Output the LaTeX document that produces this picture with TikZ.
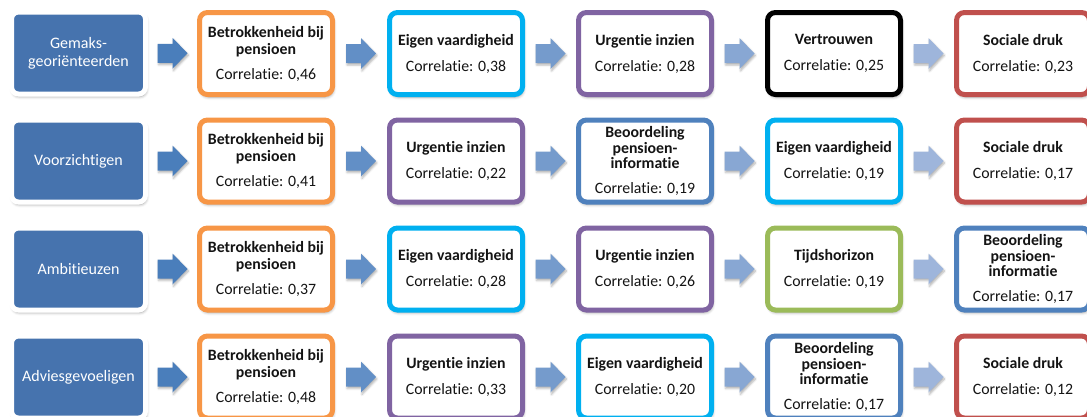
\documentclass[tikz,border=0pt]{standalone}
\usepackage{fontspec}
\setmainfont{Carlito}[Ligatures=NoCommon]
\usetikzlibrary{shadows.blur}

\definecolor{grpblue}{HTML}{4673AE}
\definecolor{cOrange}{HTML}{F79646}
\definecolor{cCyan}{HTML}{00B0F0}
\definecolor{cPurple}{HTML}{8064A2}
\definecolor{cRed}{HTML}{C0504D}
\definecolor{cGreen}{HTML}{9BBB59}
\definecolor{cBlue}{HTML}{4F81BD}
\definecolor{arA}{HTML}{4A7EBB}
\definecolor{arB}{HTML}{628FC6}
\definecolor{arC}{HTML}{759BCC}
\definecolor{arD}{HTML}{88A7D3}
\definecolor{arE}{HTML}{9EB5DB}
\definecolor{txt}{HTML}{141414}

\tikzset{
  softshadow/.style={blur shadow={shadow xshift=1pt, shadow yshift=-2.5pt,
      shadow blur radius=3pt, shadow opacity=40}},
  group/.style={draw=white, line width=5pt, fill=grpblue, rounded corners=7pt,
      minimum width=134pt, minimum height=82pt, inner sep=0pt, align=center,
      text=white, font=\fontsize{16}{18}\selectfont, softshadow},
  factor/.style={draw=#1, line width=5pt, fill=white, rounded corners=8pt,
      minimum width=133pt, minimum height=82pt, inner sep=0pt, align=center,
      text=txt, font=\fontsize{15.8}{17}\selectfont, softshadow},
  factorthree/.style={factor=#1, font=\fontsize{15.8}{15.5}\selectfont},
}

% block arrow centred in the gap between two boxes
\newcommand\conn[3]{%
  \path (#1.east) -- (#2.west) coordinate[midway] (mid);
  \fill[#3, blur shadow={shadow xshift=1pt, shadow yshift=-2pt,
      shadow blur radius=2pt, shadow opacity=30}]
    ([shift={(-15pt,9.5pt)}]mid) -- ++(15pt,0pt) -- ++(0pt,6pt)
    -- ++(15pt,-15.5pt) -- ++(-15pt,-15.5pt) -- ++(0pt,6pt)
    -- ++(-15pt,0pt) -- cycle;
}
\newcommand\twoline[3]{\textbf{#1}\\\textbf{#2}\\[8pt]Correlatie: #3}
\newcommand\oneline[2]{\textbf{#1}\\[9pt]Correlatie: #2}
\newcommand\beoord[1]{\textbf{Beoordeling}\\\textbf{pensioen-}\\\textbf{informatie}\\[9.5pt]Correlatie: #1}

\begin{document}
\begin{tikzpicture}[x=1pt, y=-1pt]
\useasboundingbox (0,0) rectangle (1087,416);
\clip (0,0) rectangle (1087,416);

% row 1
\node[group] (g1) at (78.5,53) {Gemaks-\\georiënteerden};
\node[factor=cOrange] (r1a) at (266,53.5) {\twoline{Betrokkenheid bij}{pensioen}{0,46}};
\node[factor=cCyan]   (r1b) at (456,53.5) {\oneline{Eigen vaardigheid}{0,38}};
\node[factor=cPurple] (r1c) at (645,53.5) {\oneline{Urgentie inzien}{0,28}};
\node[factor=black]   (r1d) at (834,53.5) {\oneline{Vertrouwen}{0,25}};
\node[factor=cRed]    (r1e) at (1023,53.5) {\oneline{Sociale druk}{0,23}};

% row 2
\node[group] (g2) at (78.5,161) {Voorzichtigen};
\node[factor=cOrange] (r2a) at (266,161) {\twoline{Betrokkenheid bij}{pensioen}{0,41}};
\node[factor=cPurple] (r2b) at (456,161) {\oneline{Urgentie inzien}{0,22}};
\node[factorthree=cBlue] (r2c) at (645,161) {\beoord{0,19}};
\node[factor=cCyan]   (r2d) at (834,161) {\oneline{Eigen vaardigheid}{0,19}};
\node[factor=cRed]    (r2e) at (1023,161) {\oneline{Sociale druk}{0,17}};

% row 3
\node[group] (g3) at (78.5,269) {Ambitieuzen};
\node[factor=cOrange] (r3a) at (266,269) {\twoline{Betrokkenheid bij}{pensioen}{0,37}};
\node[factor=cCyan]   (r3b) at (456,269) {\oneline{Eigen vaardigheid}{0,28}};
\node[factor=cPurple] (r3c) at (645,269) {\oneline{Urgentie inzien}{0,26}};
\node[factor=cGreen]  (r3d) at (834,269) {\oneline{Tijdshorizon}{0,19}};
\node[factorthree=cBlue] (r3e) at (1023,269) {\beoord{0,17}};

% row 4
\node[group] (g4) at (78.5,377) {Adviesgevoeligen};
\node[factor=cOrange] (r4a) at (266,377) {\twoline{Betrokkenheid bij}{pensioen}{0,48}};
\node[factor=cPurple] (r4b) at (456,377) {\oneline{Urgentie inzien}{0,33}};
\node[factor=cCyan]   (r4c) at (645,377) {\oneline{Eigen vaardigheid}{0,20}};
\node[factorthree=cBlue] (r4d) at (834,377) {\beoord{0,17}};
\node[factor=cRed]    (r4e) at (1023,377) {\oneline{Sociale druk}{0,12}};

% arrows
\foreach \r in {1,2,3,4}{
  \conn{g\r}{r\r a}{arA}
  \conn{r\r a}{r\r b}{arB}
  \conn{r\r b}{r\r c}{arC}
  \conn{r\r c}{r\r d}{arD}
  \conn{r\r d}{r\r e}{arE}
}
\end{tikzpicture}
\end{document}
